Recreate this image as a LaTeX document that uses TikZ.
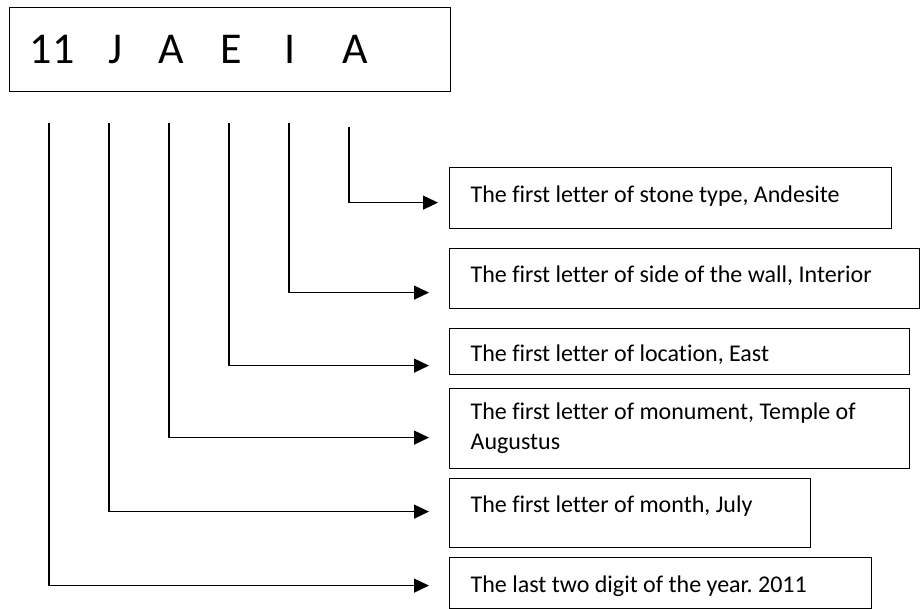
\documentclass[tikz,border=0pt]{standalone}
\usepackage{fontspec}
\setmainfont{Carlito}[Ligatures=NoCommon]
\usetikzlibrary{arrows.meta}
\frenchspacing

\begin{document}
\begin{tikzpicture}[x=1pt, y=-1pt,
        letter/.style={font=\fontsize{44}{50}\selectfont, anchor=base, inner sep=0pt},
        note/.style={draw, line width=1.2pt, anchor=north west, align=flush left,
            inner xsep=21pt, inner ysep=0pt, font=\fontsize{24}{30}\selectfont},
        link/.style={line width=1.2pt, -{Triangle[length=15pt, width=14pt]}}]
        \useasboundingbox (0,0) rectangle (921,608);
        \node[draw, line width=1.2pt, anchor=north west, inner sep=0pt,
            minimum width=441pt, minimum height=84pt] (code) at (9,7) {};
        \node[letter] (n11) at (52,63) {11};
        \node[letter] (nJ) at (116,63) {J};
        \node[letter] (nA) at (171.5,63) {A};
        \node[letter] (nE) at (231,63) {E};
        \node[letter] (nI) at (290,63) {I};
        \node[letter] (nAA) at (355.5,63) {A};
        \node[note, text width=400pt, text height=35pt, text depth=26pt] (stone) at (449,167)
            {The first letter of stone type, Andesite};
        \node[note, text width=428pt, text height=34pt, text depth=26pt] (wall) at (449,248)
            {The first letter of side of the wall, Interior};
        \node[note, text width=418pt, text height=33pt, text depth=13pt] (location) at (449,328)
            {The first letter of location, East};
        \node[note, text width=418pt, minimum height=80pt] (monument) at (449,388)
            {The first letter of monument, Temple of\\Augustus};
        \node[note, text width=319pt, text height=34pt, text depth=35pt] (month) at (449,478)
            {The first letter of month, July};
        \node[note, text width=380pt, text height=35pt, text depth=16pt] (year) at (449,557)
            {The last two digit of the year. 2011};
        \coordinate (t11) at (49,123);
        \coordinate (tJ) at (109,123);
        \coordinate (tA) at (169,123);
        \coordinate (tE) at (229,123);
        \coordinate (tI) at (289,123);
        \coordinate (tAA) at (349,127);
        \draw[link] (tAA) |- ([xshift=-11pt, yshift=-4.5pt]stone.west);
        \draw[link] (tI) |- ([xshift=-20pt, yshift=-14pt]wall.west);
        \draw[link] (tE) |- ([xshift=-20pt, yshift=-14pt]location.west);
        \draw[link] (tA) |- ([xshift=-20pt, yshift=-9pt]monument.west);
        \draw[link] (tJ) |- ([xshift=-20pt, yshift=1.5pt]month.west);
        \draw[link] (t11) |- ([xshift=-20pt, yshift=-2.5pt]year.west);
    \end{tikzpicture}
\end{document}
